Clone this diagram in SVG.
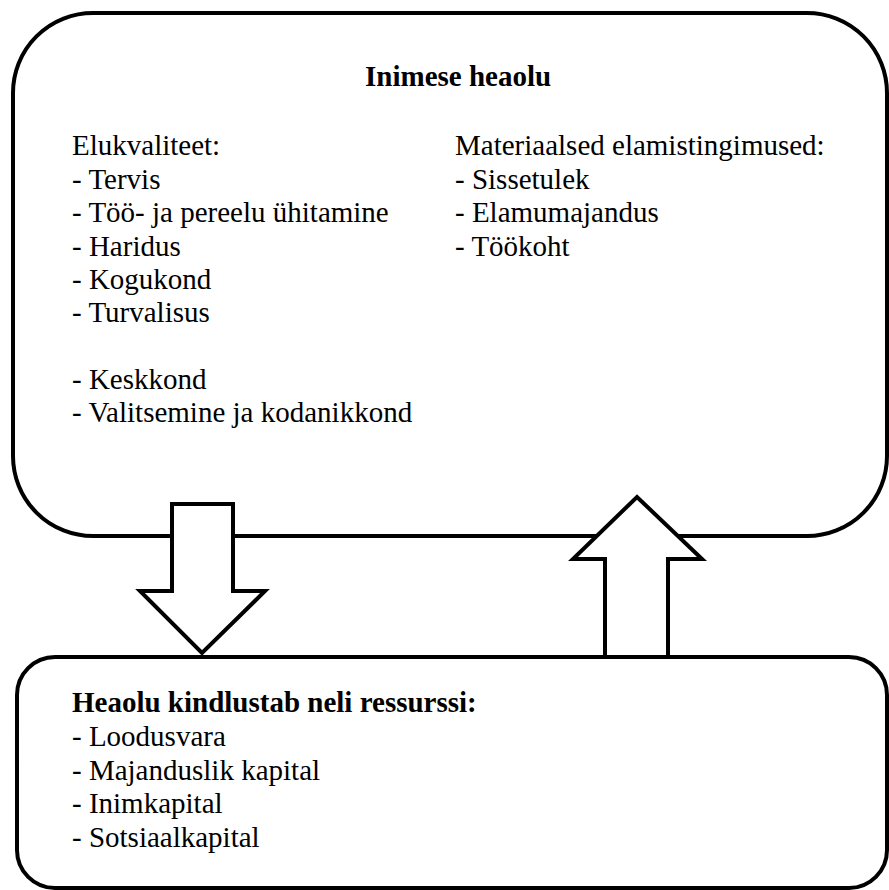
<svg xmlns="http://www.w3.org/2000/svg" width="889" height="890" viewBox="0 0 889 890">
  <style>
    .box { fill: #ffffff; stroke: #000000; stroke-width: 4; }
    .arrow { fill: #ffffff; stroke: #000000; stroke-width: 4; stroke-linejoin: miter; }
    text { font-family: "Liberation Serif", "Times New Roman", serif; font-size: 29px; fill: #000000; }
    .bold { font-weight: bold; }
  </style>
  <rect width="889" height="890" fill="#ffffff"/>

  <g id="wellbeing">
    <rect class="box" x="13" y="13" width="874" height="523" rx="80" ry="80"/>
    <text class="bold" x="365" y="86">Inimese heaolu</text>
    <text x="72" y="155">Elukvaliteet:</text>
    <text x="72" y="189">- Tervis</text>
    <text x="72" y="222">- Töö- ja pereelu ühitamine</text>
    <text x="72" y="256">- Haridus</text>
    <text x="72" y="289">- Kogukond</text>
    <text x="72" y="322">- Turvalisus</text>
    <text x="72" y="389">- Keskkond</text>
    <text x="72" y="422">- Valitsemine ja kodanikkond</text>
    <text x="455" y="155">Materiaalsed elamistingimused:</text>
    <text x="455" y="189">- Sissetulek</text>
    <text x="455" y="222">- Elamumajandus</text>
    <text x="455" y="256">- Töökoht</text>
  </g>

  <g id="resources">
    <rect class="box" x="17" y="657" width="870" height="231" rx="38" ry="38"/>
    <text class="bold" x="72" y="712">Heaolu kindlustab neli ressurssi:</text>
    <text x="72" y="746">- Loodusvara</text>
    <text x="72" y="780">- Majanduslik kapital</text>
    <text x="72" y="813">- Inimkapital</text>
    <text x="72" y="847">- Sotsiaalkapital</text>
  </g>

  <g id="connectors">
    <polygon class="arrow" points="172,504 233,504 233,591 265,591 202,653 140,591 172,591"/>
    <polygon class="arrow" points="605,657 668,657 668,559 702,559 637,497 573,559 605,559"/>
  </g>
</svg>
